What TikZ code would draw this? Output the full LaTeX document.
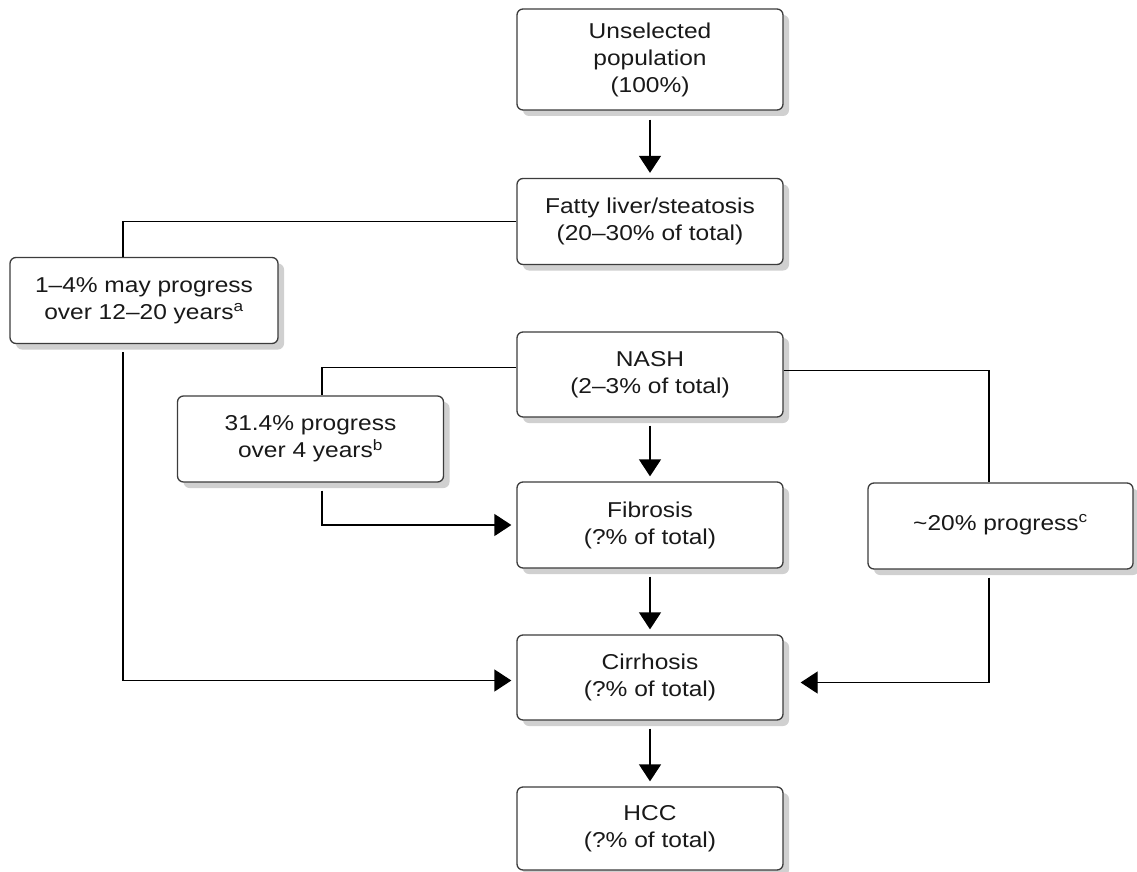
\documentclass[tikz,border=0pt]{standalone}
\usepackage{fontspec}
\setmainfont{Liberation Sans}[FakeStretch=1.14]
\usepackage{tikz}
\usetikzlibrary{arrows.meta,positioning,shadows}
\definecolor{boxline}{RGB}{60,60,60}
\definecolor{shade}{RGB}{208,208,208}

\begin{document}
\begin{tikzpicture}[x=1pt, y=-1pt,
    box/.style={draw=boxline, line width=1.3pt, rounded corners=6pt, fill=white, minimum width=266pt, minimum height=86pt, align=center, font=\fontsize{21.5}{27}\selectfont, text=black!90, drop shadow={shadow xshift=6pt, shadow yshift=-6pt, fill=shade, opacity=1}},
    arrow/.style={-{Triangle[width=22pt,length=17pt]}, line width=1.3pt, shorten >=5pt},
    link/.style={line width=1.3pt}
]
\useasboundingbox (0,0) rectangle (1137,872);

\node[box, minimum height=101pt] (unsel) at (650,59.5) {Unselected\\population\\(100\%)};
\node[box] (fatty) at (650,221.5) {Fatty liver/steatosis\\(20--30\% of total)};
\node[box, minimum width=268pt] (prog1) at (144,300.5) {1--4\% may progress\\over 12--20 years\textsuperscript{a}};
\node[box, minimum height=85pt] (nash) at (650,374.5) {NASH\\(2--3\% of total)};
\node[box] (prog2) at (310.5,439) {31.4\% progress\\over 4 years\textsuperscript{b}};
\node[box] (fibro) at (650,525) {Fibrosis\\(?\% of total)};
\node[box, minimum width=265pt] (prog3) at (1000.5,526) {\raisebox{7pt}{\textasciitilde 20\% progress\textsuperscript{c}}};
\node[box, minimum height=85pt] (cirr) at (650,677.5) {Cirrhosis\\(?\% of total)};
\node[box, minimum height=83pt] (hcc) at (650,828.5) {HCC\\(?\% of total)};

% main chain
\draw[arrow, shorten <=9pt] (unsel) -- (fatty);
\draw[arrow, shorten <=8pt] (nash) -- (fibro);
\draw[arrow, shorten <=8pt] (fibro) -- (cirr);
\draw[arrow, shorten <=8pt] (cirr) -- (hcc);

% side branches
\draw[link] (fatty.west) -| ([xshift=-21pt]prog1.north);
\draw[arrow] ([xshift=-21pt,yshift=-8pt]prog1.south) |- ([yshift=-3pt]cirr.west);
\draw[link] ([yshift=7pt]nash.west) -| ([xshift=11.5pt]prog2.north);
\draw[arrow] ([xshift=11.5pt,yshift=-8pt]prog2.south) |- (fibro.west);
\draw[link] ([yshift=4pt]nash.east) -| ([xshift=-11.5pt]prog3.north);
\draw[arrow, shorten >=17pt] ([xshift=-11.5pt,yshift=-8pt]prog3.south) |- ([yshift=-5pt]cirr.east);
\end{tikzpicture}
\end{document}
